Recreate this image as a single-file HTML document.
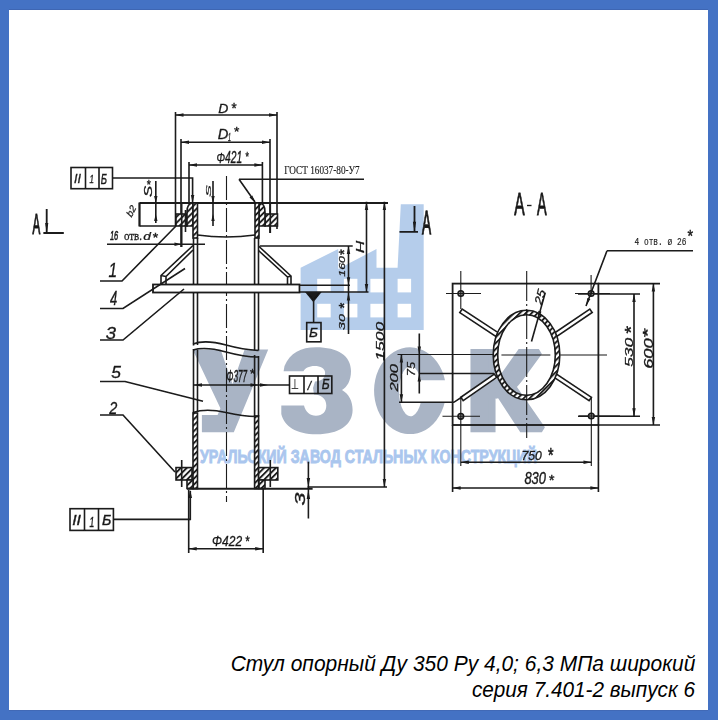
<!DOCTYPE html>
<html><head><meta charset="utf-8">
<style>
html,body{margin:0;padding:0;}
body{width:718px;height:720px;background:#4472c4;position:relative;overflow:hidden;font-family:"Liberation Sans",sans-serif;}
#paper{position:absolute;left:9px;top:10px;width:699px;height:700px;background:#fff;}
svg{position:absolute;left:0;top:0;}
</style></head><body>
<div id="paper"></div><div style="position:absolute;left:9px;top:9px;width:699px;height:1px;background:#3e66b3"></div><div style="position:absolute;left:9px;top:710px;width:699px;height:1px;background:#4169b6"></div>
<svg width="718" height="720" viewBox="0 0 718 720">
<defs>
<pattern id="h" patternUnits="userSpaceOnUse" width="4.2" height="4.2" patternTransform="rotate(45)">
<rect width="4.2" height="4.2" fill="#fff"/><line x1="1" y1="0" x2="1" y2="4.2" stroke="#111" stroke-width="1.8"/>
</pattern>
<filter id="bl" x="-2%" y="-2%" width="104%" height="104%"><feGaussianBlur stdDeviation="0.35"/></filter>
</defs>
<g id="wm">
<path d="M300.6,330 L300.6,267.7 L338.2,249 L338.2,269 L376.5,249 L376.5,267.7 L397.6,267.7 L400.8,204.2 L423.7,204.2 L423.7,330 Z" fill="#b5cdeb"/>
<g fill="#fff">
<rect x="317.2" y="278.8" width="13.5" height="13.6"/><rect x="343.9" y="278.8" width="13.5" height="13.6"/><rect x="370.4" y="278.8" width="13.5" height="13.6"/><rect x="397.6" y="278.8" width="13.5" height="13.6"/>
<rect x="317.2" y="303.8" width="13.5" height="13.6"/><rect x="343.9" y="303.8" width="13.5" height="13.6"/><rect x="370.4" y="303.8" width="13.5" height="13.6"/><rect x="397.6" y="303.8" width="13.5" height="13.6"/>
</g>
<path d="M192.6,349.6 L220.6,349.6 L232.5,384 L244.6,349.6 L268.2,349.6 L233.8,432.3 L201.9,432.3 L201.9,415 L217.6,415 L220.4,408.3 Z" fill="#a9b4c5"/>
<path d="M283.6,371.2 L284.5,366 C290,353 301,347.3 316,347.3 C338,347.3 351,356 351,371 C351,381 347,387 342,390 C349,394 352.6,401 352.6,410 C352.6,425 339,434.3 316.5,434.3 C296,434.3 284,426 281.3,414 L281.3,405.5 L304,405.5 C305.5,412 310,415.8 316,415.8 C322.5,415.8 326.3,411.5 326.3,405.5 C326.3,398.5 321,394.5 314,394.5 L313,388 L315,381.5 C321.5,381.5 325.1,378 325.1,372.8 C325.1,368.5 320.5,366 314.6,366 C309,366 304.7,368.3 303.5,371.2 Z" fill="#a9b4c5"/>
<path d="M445,380.3 A36,43.4 0 1 0 444.7,402.5 L420.8,402.5 A11.5,25 0 1 1 420.9,380.3 Z" fill="#a9b4c5"/>
<g font-family="Liberation Sans" font-weight="bold" font-size="113" fill="#a9b4c5" stroke="#a9b4c5" stroke-width="6.5" stroke-linejoin="miter" stroke-miterlimit="2">



<text transform="matrix(1.1007,0,0,0.9899,465.72,429.18)">К</text>
</g>
<text x="200" y="462.6" font-family="Liberation Sans" font-weight="bold" font-size="18.5" fill="#aac6ee" stroke="#aac6ee" stroke-width="0.9" textLength="337" lengthAdjust="spacingAndGlyphs">УРАЛЬСКИЙ ЗАВОД СТАЛЬНЫХ КОНСТРУКЦИЙ</text>
</g>
<g filter="url(#bl)">
<g id="dr" stroke="#1a1a1a" stroke-width="1.6" fill="none">
<path d="M175.5,115 H277 M175.5,112 V226 M277,112 V229"/>
<path d="M181,142.3 H270 M181,139 V247 M270,139 V233"/>
<path d="M189,165 H262.4 M189,162 V202 M262.4,162 V203"/>
<path d="M175.5,115.0 L183.5,113.3 L183.5,116.7z" fill="#1a1a1a" stroke="none"/>
<path d="M277.0,115.0 L269.0,116.7 L269.0,113.3z" fill="#1a1a1a" stroke="none"/>
<path d="M181.0,142.3 L189.0,140.6 L189.0,144.0z" fill="#1a1a1a" stroke="none"/>
<path d="M270.0,142.3 L262.0,144.0 L262.0,140.6z" fill="#1a1a1a" stroke="none"/>
<path d="M189.0,165.0 L197.0,163.3 L197.0,166.7z" fill="#1a1a1a" stroke="none"/>
<path d="M262.4,165.0 L254.4,166.7 L254.4,163.3z" fill="#1a1a1a" stroke="none"/>
<path d="M112.5,178 H192.6 V202"/>
<path d="M192.6,203.0 L190.9,195.0 L194.3,195.0z" fill="#1a1a1a" stroke="none"/>
<path d="M239,179.3 H364 M239,179.3 L255,202"/>
<path d="M255.5,203.0 L249.5,197.4 L252.3,195.5z" fill="#1a1a1a" stroke="none"/>
<path d="M139.5,203 H388" stroke-width="2"/>
<path d="M139.5,226 H176"/>
<path d="M139.5,202.5 V226.5" stroke-width="2.2"/>
<path d="M155.8,181 V223"/>
<path d="M155.8,203.0 L154.1,196.0 L157.5,196.0z" fill="#1a1a1a" stroke="none"/>
<path d="M155.8,214.0 L157.5,221.0 L154.1,221.0z" fill="#1a1a1a" stroke="none"/>
<path d="M213,181 V226"/>
<path d="M213.0,203.0 L211.3,196.0 L214.7,196.0z" fill="#1a1a1a" stroke="none"/>
<path d="M213.0,214.0 L214.7,221.0 L211.3,221.0z" fill="#1a1a1a" stroke="none"/>
<rect x="176" y="214" width="11" height="12" fill="url(#h)"/>
<rect x="265" y="214" width="12.5" height="12" fill="url(#h)"/>
<path d="M187,226 V212 Q187,203 193,203 V226z" fill="url(#h)"/>
<path d="M265,226 V212 Q265,203 259,203 V226z" fill="url(#h)"/>
<rect x="193" y="203" width="4.5" height="35" fill="url(#h)"/>
<rect x="255" y="203" width="4" height="35" fill="url(#h)"/>
<path d="M193.5,238 V345.5 M197.5,238 V345 M254.6,238 V350 M258.5,238 V350.5"/>
<path d="M193.5,349 V413 M197.5,349.5 V412 M254.6,355 V416 M258.5,356 V416.5"/>
<rect x="193" y="413" width="4.5" height="75.5" fill="url(#h)"/>
<rect x="254.6" y="416" width="4" height="72.5" fill="url(#h)"/>
<path d="M197.5,235 Q226,239 255,235"/>
<path d="M193,344 C203,340 215,342 226,345 C237,348 248,350 258.5,350.5"/>
<path d="M193,350 C203,347 215,349 226,352 C237,355 248,357 258.5,357"/>
<path d="M193,412.5 C203,409 215,410 226,412.5 C237,415 248,417 258.5,416.5"/>
<path d="M226.5,176 V502" stroke-dasharray="24,3,2,3" stroke-width="1.1"/>
<path d="M107,244.2 H205"/>
<path d="M181.5,244.2 L174.5,245.9 L174.5,242.5z" fill="#1a1a1a" stroke="none"/>
<path d="M181.7,203 V247 M185.5,210 V232 M270.3,203 V233"/>
<path d="M193,245.5 L161,275.5 V284.5 M193,250 L166,276.5 V284.5 M161,275.5 L166,276.5"/>
<path d="M258.5,246 L291,276 V284.5 M258.5,250.5 L287.5,277 V284.5 M291,276 L287.5,277"/>
<rect x="153" y="284.5" width="146.5" height="8" stroke-width="1.8" fill="#fff"/>
<path d="M100,281 H122 L176,226"/>
<path d="M100,308.5 H123 L185,268.5"/>
<path d="M100,340 H123 L184,289"/>
<path d="M100,381.5 H125 L203,401.3"/>
<path d="M100,415 H123 L175,472"/>
<rect x="176" y="467.6" width="16" height="12.4" fill="url(#h)"/>
<rect x="258.6" y="467.6" width="19.2" height="12.4" fill="url(#h)"/>
<rect x="187" y="480" width="6" height="8.5" fill="url(#h)"/>
<rect x="259" y="480" width="6" height="8.5" fill="url(#h)"/>
<path d="M181.7,460 V487 M270.3,460 V487"/>
<path d="M187,488.8 H312.6" stroke-width="2"/>
<path d="M308.4,461.7 V518.5"/>
<path d="M308.4,487.0 L306.7,478.0 L310.1,478.0z" fill="#1a1a1a" stroke="none"/>
<path d="M308.4,490.0 L310.1,499.0 L306.7,499.0z" fill="#1a1a1a" stroke="none"/>
<path d="M188.7,548.8 H263.2 M188.7,490 V553 M263.2,489 V553"/>
<path d="M188.7,548.8 L196.7,547.1 L196.7,550.5z" fill="#1a1a1a" stroke="none"/>
<path d="M263.2,548.8 L255.2,550.5 L255.2,547.1z" fill="#1a1a1a" stroke="none"/>
<path d="M113.4,519.4 H190.3 V491"/>
<path d="M190.3,490.0 L192.0,498.0 L188.6,498.0z" fill="#1a1a1a" stroke="none"/>
<rect x="71" y="167.5" width="41.5" height="21.2"/><path d="M85.5,167.5 V188.7 M99,167.5 V188.7"/>
<rect x="70" y="508.7" width="43.4" height="21.7"/><path d="M84.5,508.7 V530.4 M98.5,508.7 V530.4"/>
<rect x="289.5" y="376" width="42.3" height="17.5"/><path d="M304,376 V393.5 M318,376 V393.5"/>
<path d="M193.5,385 H289.5"/>
<path d="M194.0,385.0 L202.0,383.3 L202.0,386.7z" fill="#1a1a1a" stroke="none"/>
<path d="M258.5,385.0 L250.5,386.7 L250.5,383.3z" fill="#1a1a1a" stroke="none"/>
<path d="M268.0,385.0 L260.0,386.7 L260.0,383.3z" fill="#1a1a1a" stroke="none"/>
<path d="M46.7,209 V233 M43.4,233 H63.8" stroke-width="1.8"/>
<path d="M46.7,233 l-1.6,-10 h3.2z" fill="#1a1a1a" stroke="none"/>
<path d="M414.5,206 V231.8 M399.5,231.8 H418" stroke-width="1.8"/>
<path d="M414.5,231.8 l-1.6,-10 h3.2z" fill="#1a1a1a" stroke="none"/>
<path d="M366.5,201.7 V292 M299.5,292 H368.5"/>
<path d="M384.4,201.7 V487 M307.6,487 H387"/>
<path d="M384.4,487.0 L382.7,479.0 L386.1,479.0z" fill="#1a1a1a" stroke="none"/>
<path d="M348.5,246 V334 M260,246 H352.7 M299.5,285.3 H350"/>
<path d="M366.5,202.0 L368.2,210.0 L364.8,210.0z" fill="#1a1a1a" stroke="none"/>
<path d="M366.5,292.0 L364.8,284.0 L368.2,284.0z" fill="#1a1a1a" stroke="none"/>
<path d="M384.4,202.0 L386.1,210.0 L382.7,210.0z" fill="#1a1a1a" stroke="none"/>
<path d="M348.5,246.0 L350.2,254.0 L346.8,254.0z" fill="#1a1a1a" stroke="none"/>
<path d="M348.5,285.3 L346.8,277.3 L350.2,277.3z" fill="#1a1a1a" stroke="none"/>
<path d="M348.5,292.5 L350.2,300.5 L346.8,300.5z" fill="#1a1a1a" stroke="none"/>
<path d="M306.7,292.8 H320 L313.4,301z" fill="#1a1a1a"/>
<path d="M313.6,301 V322.6"/><rect x="306.7" y="322.6" width="14.3" height="19.2"/>
<rect x="452.6" y="283.6" width="145.8" height="141.4" stroke-width="1.8"/>
<path d="M598,283.6 H660 M598,425 H660 M578,294 H640 M578,416.3 H640"/>
<path d="M653.4,283.6 V425 M634,294 V416.3"/>
<path d="M653.4,283.6 L655.1,291.6 L651.7,291.6z" fill="#1a1a1a" stroke="none"/>
<path d="M653.4,425.0 L651.7,417.0 L655.1,417.0z" fill="#1a1a1a" stroke="none"/>
<path d="M634.0,294.0 L635.7,302.0 L632.3,302.0z" fill="#1a1a1a" stroke="none"/>
<path d="M634.0,416.3 L632.3,408.3 L635.7,408.3z" fill="#1a1a1a" stroke="none"/>
<circle cx="460.8" cy="293.5" r="2.8" fill="#999"/>
<circle cx="591.1" cy="293.5" r="2.8" fill="#999"/>
<circle cx="460.8" cy="416.3" r="2.8" fill="#999"/>
<circle cx="591.3" cy="416" r="2.8" fill="#999"/>
<path d="M446,293.5 H481 M575,293.5 H610 M442.5,416.3 H480 M579,416 H620 M460.8,271 V309 M591.1,275 V296 M460.8,398 V466 M591.3,398 V466" stroke-width="1.1"/>
<path d="M459.8,312.6 L495.8,336.3 L498.2,332.7 L462.2,309.0z" fill="#fff"/>
<path d="M589.8,309.1 L554.8,332.8 L557.2,336.2 L592.2,312.5z" fill="#fff"/>
<path d="M463.2,400.7 L496.7,377.4 L494.3,374.0 L460.8,397.3z" fill="#fff"/>
<path d="M591.5,397.3 L556.5,374.0 L554.1,377.4 L589.1,400.7z" fill="#fff"/>
<path fill-rule="evenodd" fill="url(#h)" d="M493.2,355 a33.3,44.7 0 1 0 66.6,0 a33.3,44.7 0 1 0 -66.6,0z M497.7,355 a28.8,40.3 0 1 0 57.6,0 a28.8,40.3 0 1 0 -57.6,0z"/>
<path d="M397.5,354.5 H493.5 M501.4,355 H550.3 M560.3,355 H607" stroke-width="1.1"/>
<path d="M526.7,271 V438" stroke-width="1.1" stroke-dasharray="30,3,2,3"/>
<path d="M399,402.3 H453.8 L462,397"/>
<path d="M460.8,462.3 H591.5 M452.6,488 H598.4 M452.6,425 V492 M598.4,425 V492"/>
<path d="M460.8,462.3 L468.8,460.6 L468.8,464.0z" fill="#1a1a1a" stroke="none"/>
<path d="M591.5,462.3 L583.5,464.0 L583.5,460.6z" fill="#1a1a1a" stroke="none"/>
<path d="M452.6,488.0 L460.6,486.3 L460.6,489.7z" fill="#1a1a1a" stroke="none"/>
<path d="M598.4,488.0 L590.4,489.7 L590.4,486.3z" fill="#1a1a1a" stroke="none"/>
<path d="M545.3,292.6 L531.5,341.5"/>
<path d="M538.0,318.0 L538.3,310.8 L541.5,311.7z" fill="#1a1a1a" stroke="none"/>
<path d="M607,250.8 H693 M607,250.8 L586,306"/>
<path d="M586.0,306.0 L587.3,297.9 L590.4,299.1z" fill="#1a1a1a" stroke="none"/>
<path d="M401.4,354.5 V402.3 M419.3,333.4 V393.5 M418.5,373.5 H494"/>
<path d="M401.4,354.5 L403.1,362.5 L399.7,362.5z" fill="#1a1a1a" stroke="none"/>
<path d="M401.4,402.3 L399.7,394.3 L403.1,394.3z" fill="#1a1a1a" stroke="none"/>
<path d="M419.3,354.5 L417.6,346.5 L421.0,346.5z" fill="#1a1a1a" stroke="none"/>
<path d="M419.3,373.5 L421.0,381.5 L417.6,381.5z" fill="#1a1a1a" stroke="none"/>
</g>
<text transform="matrix(1.1176,0,0,0.9915,218.22,112.58) rotate(0)" font-family="Liberation Sans" font-style="italic" font-size="12.5" fill="#1a1a1a" stroke="#1a1a1a" stroke-width="0.27">D</text>
<text transform="matrix(1.0146,0,0,1.1400,231.60,112.70) rotate(0)" font-family="Liberation Sans" font-style="normal" font-size="13" fill="#1a1a1a" stroke="#1a1a1a" stroke-width="0.36">*</text>
<text transform="matrix(1.1765,0,0,1.2169,217.71,139.15) rotate(0)" font-family="Liberation Sans" font-style="italic" font-size="12.5" fill="#1a1a1a" stroke="#1a1a1a" stroke-width="0.27">D</text>
<text transform="matrix(0.6667,0,0,1.2696,227.92,140.64) rotate(0)" font-family="Liberation Sans" font-style="italic" font-size="8" fill="#1a1a1a" stroke="#1a1a1a" stroke-width="0.24">1</text>
<text transform="matrix(1.0537,0,0,0.9400,234.00,136.38) rotate(0)" font-family="Liberation Sans" font-style="normal" font-size="13" fill="#1a1a1a" stroke="#1a1a1a" stroke-width="0.36">*</text>
<text transform="matrix(0.8559,0,0,1.2986,216.47,163.04) rotate(0)" font-family="Liberation Sans" font-style="italic" font-size="12" fill="#1a1a1a" stroke="#1a1a1a" stroke-width="0.27">Φ421</text>
<text transform="matrix(0.8000,0,0,1.1059,245.60,161.37) rotate(0)" font-family="Liberation Sans" font-style="normal" font-size="11" fill="#1a1a1a" stroke="#1a1a1a" stroke-width="0.36">*</text>
<text transform="matrix(0.7491,0,0,1.5625,226.53,382.11) rotate(0)" font-family="Liberation Sans" font-style="italic" font-size="11" fill="#1a1a1a" stroke="#1a1a1a" stroke-width="0.27">Φ377</text>
<text transform="matrix(1.2903,0,0,1.3333,250.00,378.13) rotate(0)" font-family="Liberation Sans" font-style="normal" font-size="10" fill="#1a1a1a" stroke="#1a1a1a" stroke-width="0.30">*</text>
<text transform="matrix(0.9974,0,0,1.2174,212.08,546.35) rotate(0)" font-family="Liberation Sans" font-style="italic" font-size="12" fill="#1a1a1a" stroke="#1a1a1a" stroke-width="0.27">Φ422</text>
<text transform="matrix(0.9647,0,0,1.3176,245.50,545.51) rotate(0)" font-family="Liberation Sans" font-style="normal" font-size="11" fill="#1a1a1a" stroke="#1a1a1a" stroke-width="0.36">*</text>
<text transform="matrix(0.8597,0,0,1.1485,108.59,277.36) rotate(0)" font-family="Liberation Sans" font-style="italic" font-size="18" fill="#1a1a1a" stroke="#1a1a1a" stroke-width="0.30">1</text>
<text transform="matrix(0.7263,0,0,1.1564,110.00,305.46) rotate(0)" font-family="Liberation Sans" font-style="italic" font-size="18" fill="#1a1a1a" stroke="#1a1a1a" stroke-width="0.30">4</text>
<text transform="matrix(1.2308,0,0,1.0391,105.69,338.54) rotate(0)" font-family="Liberation Sans" font-style="italic" font-size="15" fill="#1a1a1a" stroke="#1a1a1a" stroke-width="0.30">3</text>
<text transform="matrix(1.1582,0,0,1.0791,111.26,378.03) rotate(0)" font-family="Liberation Sans" font-style="italic" font-size="15" fill="#1a1a1a" stroke="#1a1a1a" stroke-width="0.30">5</text>
<text transform="matrix(0.9647,0,0,1.0419,109.24,413.77) rotate(0)" font-family="Liberation Sans" font-style="italic" font-size="15" fill="#1a1a1a" stroke="#1a1a1a" stroke-width="0.30">2</text>
<text transform="matrix(0.5695,0,0,1.0256,110.00,240.02) rotate(0)" font-family="Liberation Sans" font-style="italic" font-size="13" fill="#1a1a1a" stroke="#1a1a1a" stroke-width="0.54">16</text>
<text transform="matrix(1.0944,0,0,1.3000,123.93,239.68) rotate(0)" font-family="Liberation Serif" font-style="normal" font-size="10" fill="#1a1a1a" stroke="#1a1a1a" stroke-width="0.21">отв.</text>
<text transform="matrix(1.1491,0,0,0.9205,143.31,240.17) rotate(0)" font-family="Liberation Sans" font-style="italic" font-size="12" fill="#1a1a1a" stroke="#1a1a1a" stroke-width="0.27">d</text>
<text transform="matrix(1.2706,0,0,1.1765,152.80,242.12) rotate(0)" font-family="Liberation Sans" font-style="normal" font-size="11" fill="#1a1a1a" stroke="#1a1a1a" stroke-width="0.36">*</text>
<text transform="matrix(1.1404,0,0,1.2444,73.91,183.24) rotate(0)" font-family="Liberation Sans" font-style="italic" font-size="11" fill="#1a1a1a" stroke="#1a1a1a" stroke-width="0.30">II</text>
<text transform="matrix(0.7238,0,0,1.0667,89.51,182.87) rotate(0)" font-family="Liberation Sans" font-style="italic" font-size="11" fill="#1a1a1a" stroke="#1a1a1a" stroke-width="0.30">1</text>
<text transform="matrix(0.8741,0,0,1.3206,100.79,183.63) rotate(0)" font-family="Liberation Sans" font-style="italic" font-size="11" fill="#1a1a1a" stroke="#1a1a1a" stroke-width="0.30">Б</text>
<text transform="matrix(1.4298,0,0,1.3333,72.14,525.33) rotate(0)" font-family="Liberation Sans" font-style="italic" font-size="11" fill="#1a1a1a" stroke="#1a1a1a" stroke-width="0.30">II</text>
<text transform="matrix(0.7810,0,0,1.3714,89.60,526.53) rotate(0)" font-family="Liberation Sans" font-style="italic" font-size="11" fill="#1a1a1a" stroke="#1a1a1a" stroke-width="0.30">1</text>
<text transform="matrix(1.3037,0,0,1.2698,102.04,524.84) rotate(0)" font-family="Liberation Sans" font-style="italic" font-size="11" fill="#1a1a1a" stroke="#1a1a1a" stroke-width="0.30">Б</text>
<text transform="matrix(0.7768,0,0,1.2058,291.02,389.05) rotate(0)" font-family="Liberation Sans" font-style="normal" font-size="12" fill="#1a1a1a" stroke="#1a1a1a" stroke-width="0.18">⊥</text>
<text transform="matrix(1.0732,0,0,1.2418,307.64,389.69) rotate(0)" font-family="Liberation Sans" font-style="italic" font-size="11" fill="#1a1a1a" stroke="#1a1a1a" stroke-width="0.30">/</text>
<text transform="matrix(1.1111,0,0,1.3206,321.66,389.43) rotate(0)" font-family="Liberation Sans" font-style="italic" font-size="11" fill="#1a1a1a" stroke="#1a1a1a" stroke-width="0.30">Б</text>
<text transform="matrix(1.2444,0,0,1.1683,309.04,336.65) rotate(0)" font-family="Liberation Sans" font-style="italic" font-size="11" fill="#1a1a1a" stroke="#1a1a1a" stroke-width="0.30">Б</text>
<text transform="matrix(0.9302,0,0,1.0218,131.53,217.77) rotate(-60)" font-family="Liberation Sans" font-style="italic" font-size="10" fill="#1a1a1a" stroke="#1a1a1a" stroke-width="0.27">b2</text>
<text transform="matrix(1.0169,0,0,1.6769,152.25,196.91) rotate(-90)" font-family="Liberation Sans" font-style="italic" font-size="10" fill="#1a1a1a" stroke="#1a1a1a" stroke-width="0.27">S</text>
<text transform="matrix(1.0581,0,0,1.3333,146.70,189.33) rotate(0)" font-family="Liberation Sans" font-style="normal" font-size="10" fill="#1a1a1a" stroke="#1a1a1a" stroke-width="0.30">*</text>
<text transform="matrix(0.6769,0,0,1.6276,211.33,197.00) rotate(-90)" font-family="Liberation Sans" font-style="italic" font-size="11" fill="#1a1a1a" stroke="#1a1a1a" stroke-width="0.27">S</text>
<text transform="matrix(0.7892,0,0,1.3440,364.20,253.34) rotate(-90)" font-family="Liberation Sans" font-style="italic" font-size="13" fill="#1a1a1a" stroke="#1a1a1a" stroke-width="0.30">H</text>
<text transform="matrix(0.9419,0,0,1.1799,345.06,276.65) rotate(-90)" font-family="Liberation Sans" font-style="italic" font-size="10.5" fill="#1a1a1a" stroke="#1a1a1a" stroke-width="0.27">160</text>
<text transform="matrix(1.4667,0,0,1.4452,349.27,255.00) rotate(-90)" font-family="Liberation Sans" font-style="normal" font-size="10" fill="#1a1a1a" stroke="#1a1a1a" stroke-width="0.30">*</text>
<text transform="matrix(0.8387,0,0,1.3591,344.79,329.97) rotate(-90)" font-family="Liberation Sans" font-style="italic" font-size="10.5" fill="#1a1a1a" stroke="#1a1a1a" stroke-width="0.27">30</text>
<text transform="matrix(1.4667,0,0,1.4968,349.27,308.50) rotate(-90)" font-family="Liberation Sans" font-style="normal" font-size="10" fill="#1a1a1a" stroke="#1a1a1a" stroke-width="0.30">*</text>
<text transform="matrix(0.9371,0,0,1.4610,383.97,360.68) rotate(-90)" font-family="Liberation Sans" font-style="italic" font-size="12" fill="#1a1a1a" stroke="#1a1a1a" stroke-width="0.27">1500</text>
<text transform="matrix(1.2500,0,0,2.1000,304.69,505.46) rotate(-90)" font-family="Liberation Sans" font-style="italic" font-size="11" fill="#1a1a1a" stroke="#1a1a1a" stroke-width="0.27">3</text>
<text transform="matrix(0.9677,0,0,1.5775,398.16,391.61) rotate(-90)" font-family="Liberation Sans" font-style="italic" font-size="10.5" fill="#1a1a1a" stroke="#1a1a1a" stroke-width="0.27">200</text>
<text transform="matrix(0.9250,0,0,1.1604,414.77,376.16) rotate(-90)" font-family="Liberation Sans" font-style="italic" font-size="11" fill="#1a1a1a" stroke="#1a1a1a" stroke-width="0.27">75</text>
<text transform="matrix(0.9231,0,0,1.5973,632.57,366.95) rotate(-90)" font-family="Liberation Sans" font-style="italic" font-size="11" fill="#1a1a1a" stroke="#1a1a1a" stroke-width="0.27">530</text>
<text transform="matrix(1.6667,0,0,1.9097,637.42,333.40) rotate(-90)" font-family="Liberation Sans" font-style="normal" font-size="10" fill="#1a1a1a" stroke="#1a1a1a" stroke-width="0.30">*</text>
<text transform="matrix(1.0831,0,0,1.6559,652.53,368.83) rotate(-90)" font-family="Liberation Sans" font-style="italic" font-size="11" fill="#1a1a1a" stroke="#1a1a1a" stroke-width="0.27">600</text>
<text transform="matrix(1.3333,0,0,2.3742,652.13,337.20) rotate(-90)" font-family="Liberation Sans" font-style="normal" font-size="10" fill="#1a1a1a" stroke="#1a1a1a" stroke-width="0.30">*</text>
<text transform="matrix(1.1429,0,0,1.3714,541.71,305.66) rotate(-72)" font-family="Liberation Sans" font-style="italic" font-size="10" fill="#1a1a1a" stroke="#1a1a1a" stroke-width="0.27">25</text>
<text transform="matrix(1.1108,0,0,1.1375,521.39,459.72) rotate(0)" font-family="Liberation Sans" font-style="italic" font-size="11" fill="#1a1a1a" stroke="#1a1a1a" stroke-width="0.27">750</text>
<text transform="matrix(1.4194,0,0,2.0000,548.00,461.50) rotate(0)" font-family="Liberation Sans" font-style="normal" font-size="10" fill="#1a1a1a" stroke="#1a1a1a" stroke-width="0.30">*</text>
<text transform="matrix(1.1726,0,0,1.4625,524.45,483.93) rotate(0)" font-family="Liberation Sans" font-style="italic" font-size="11" fill="#1a1a1a" stroke="#1a1a1a" stroke-width="0.27">830</text>
<text transform="matrix(1.3935,0,0,1.5467,548.90,485.13) rotate(0)" font-family="Liberation Sans" font-style="normal" font-size="10" fill="#1a1a1a" stroke="#1a1a1a" stroke-width="0.30">*</text>
<text transform="matrix(0.3754,0,0,0.9414,32.43,234.11) rotate(0)" font-family="Liberation Sans" font-style="normal" font-size="31" fill="#1a1a1a" stroke="#1a1a1a" stroke-width="1.32">A</text>
<text transform="matrix(0.3900,0,0,0.9576,422.04,233.70) rotate(0)" font-family="Liberation Sans" font-style="normal" font-size="35" fill="#1a1a1a" stroke="#1a1a1a" stroke-width="1.32">A</text>
<text transform="matrix(0.4731,0,0,0.9558,514.30,215.22) rotate(0)" font-family="Liberation Sans" font-style="normal" font-size="33" fill="#1a1a1a" stroke="#1a1a1a" stroke-width="0.96">A</text>
<text transform="matrix(0.4387,0,0,0.9558,537.07,215.22) rotate(0)" font-family="Liberation Sans" font-style="normal" font-size="33" fill="#1a1a1a" stroke="#1a1a1a" stroke-width="0.96">A</text>
<text transform="matrix(0.9706,0,0,1.3846,284.26,174.23) rotate(0)" font-family="Liberation Serif" font-style="normal" font-size="9.5" fill="#1a1a1a" stroke="#1a1a1a" stroke-width="0.12">ГОСТ 16037-80-У7</text>
<text transform="matrix(0.8752,0,0,1.1200,634.47,245.36) rotate(0)" font-family="Liberation Mono" font-style="normal" font-size="9" fill="#1a1a1a" stroke="#1a1a1a" stroke-width="0.12">4 отв. ø 26</text>
<text transform="matrix(1.0233,0,0,1.2381,687.50,242.07) rotate(0)" font-family="Liberation Sans" font-style="normal" font-size="14" fill="#1a1a1a" stroke="#1a1a1a" stroke-width="0.36">*</text>
<path d="M527,205.5 H531.5" stroke="#1a1a1a" stroke-width="1.4"/>
</g>
<g font-family="Liberation Sans" font-style="italic" font-size="21.5" fill="#000">
<text x="230.7" y="671.3" textLength="464.7" lengthAdjust="spacingAndGlyphs">Стул опорный Ду 350 Ру 4,0; 6,3 МПа широкий</text>
<text x="471.9" y="696.7" textLength="223.1" lengthAdjust="spacingAndGlyphs">серия 7.401-2 выпуск 6</text>
</g>
</svg>
</body></html>
